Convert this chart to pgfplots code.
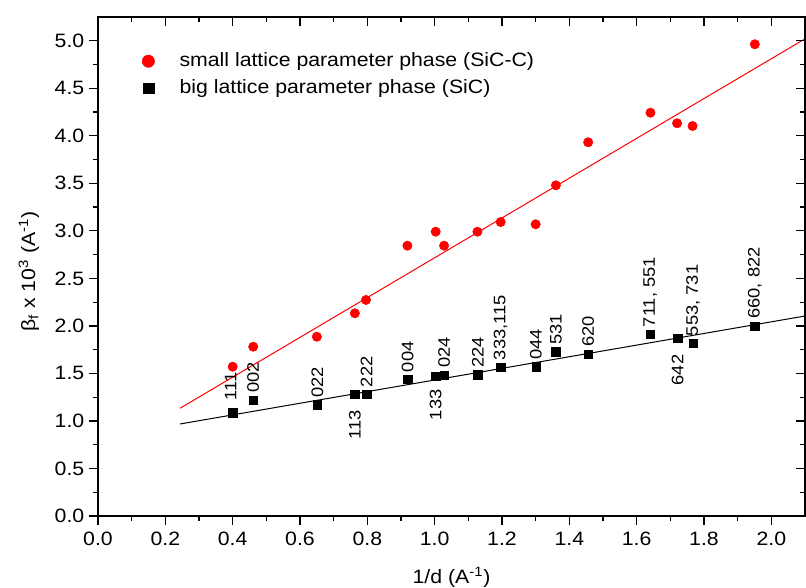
\documentclass[border=0pt]{standalone}
\usepackage{fontspec}
\setmainfont{Liberation Sans}[FakeStretch=1.1]
\usepackage{pgfplots}
\pgfplotsset{compat=1.18}
\begin{document}
\begin{tikzpicture}
\pgfplotsset{
  common/.style={
    at={(0,0)}, anchor=south west, scale only axis,
    width=530.25pt, height=374.25pt,
    xmin=0, xmax=2.1, ymin=0, ymax=5.25,
    xtick={0,0.2,0.4,0.6,0.8,1.0,1.2,1.4,1.6,1.8,2.0},
    ytick={0,0.5,1.0,1.5,2.0,2.5,3.0,3.5,4.0,4.5,5.0},
    minor x tick num=1, minor y tick num=1,
    major tick length=6.75pt, minor tick length=3.75pt,
    axis line style={line width=0.9pt},
    every tick/.style={line width=0.9pt, black},
    tick label style={font=\fontsize{14.5}{17}\selectfont},
    /pgf/number format/assume math mode=true,
    /pgf/number format/fixed,
    /pgf/number format/fixed zerofill,
    /pgf/number format/precision=1,
  },
}
\begin{axis}[common, name=ax,
  tick align=outside, xtick pos=left, ytick pos=left,
  xticklabel style={yshift=-2pt},
  xlabel={1/d (A\textsuperscript{-1})},
  ylabel={β\textsubscript{f} x 10\textsuperscript{3} (A\textsuperscript{-1})},
  label style={font=\fontsize{14.5}{17}\selectfont},
  xlabel style={at={(axis description cs:0.5,-0.1343)}, anchor=base},
  ylabel style={at={(axis description cs:-0.0976,0.49)}, anchor=center},
  legend style={at={(axis description cs:0,1)}, anchor=north west,
    xshift=33pt, yshift=-26pt, draw=none, fill=none, inner sep=0pt,
    row sep=6.25pt, font=\fontsize{14.5}{17}\selectfont,
    nodes={inner sep=0pt, text height=11pt, text depth=3pt, anchor=west},
    /tikz/every odd column/.append style={column sep=18.75pt}},
  legend cell align=left,
]
\addplot[only marks, mark=*, mark size=3.5pt, mark options={draw=red, fill=red},
  legend image post style={mark size=4.6pt}] coordinates {
(0.400,1.571) (0.461,1.781) (0.650,1.886) (0.763,2.133) (0.796,2.273)
(0.919,2.844) (1.003,2.991) (1.028,2.844) (1.127,2.991) (1.196,3.093)
(1.300,3.069) (1.360,3.479) (1.456,3.932) (1.641,4.243) (1.720,4.132)
(1.766,4.103) (1.951,4.963)};
\addlegendentry{small lattice parameter phase (SiC-C)}
\addplot[only marks, mark=square*, mark size=3.1pt, mark options={draw=black, fill=black},
  legend image post style={mark size=4.1pt}] coordinates {
(0.400,1.087) (0.461,1.220) (0.652,1.171) (0.763,1.280) (0.798,1.280)
(0.920,1.438) (1.003,1.473) (1.028,1.483) (1.128,1.487) (1.196,1.564)
(1.301,1.571) (1.360,1.729) (1.456,1.704) (1.640,1.911) (1.722,1.869)
(1.768,1.817) (1.951,1.999)};
\addlegendentry{big lattice parameter phase (SiC)}
\addplot[red, line width=0.75pt, forget plot] coordinates {(0.2435,1.133) (2.1,5.02)};
\addplot[black, line width=0.75pt, forget plot] coordinates {(0.2435,0.968) (2.1,2.104)};
\begin{scope}[every node/.style={inner sep=0pt, font=\fontsize{12.5}{14}\selectfont}]
\node[rotate=90, anchor=west] at ([xshift=-1.5pt,yshift=9pt]axis cs:0.400,1.087) {111};
\node[rotate=90, anchor=west] at ([yshift=5.25pt]axis cs:0.461,1.220) {002};
\node[rotate=90, anchor=west] at ([yshift=5.25pt]axis cs:0.652,1.171) {022};
\node[rotate=90, anchor=east] at ([yshift=-12pt]axis cs:0.763,1.280) {113};
\node[rotate=90, anchor=west] at ([yshift=5.25pt]axis cs:0.798,1.280) {222};
\node[rotate=90, anchor=west] at ([yshift=5.25pt]axis cs:0.920,1.438) {004};
\node[rotate=90, anchor=east] at ([yshift=-10pt]axis cs:1.003,1.473) {133};
\node[rotate=90, anchor=west] at ([yshift=5.25pt]axis cs:1.028,1.483) {024};
\node[rotate=90, anchor=west] at ([yshift=5.25pt]axis cs:1.128,1.487) {224};
\node[rotate=90, anchor=west] at ([yshift=5.25pt]axis cs:1.196,1.564) {333,115};
\node[rotate=90, anchor=west] at ([yshift=5.25pt]axis cs:1.301,1.571) {044};
\node[rotate=90, anchor=west] at ([yshift=5.25pt]axis cs:1.360,1.729) {531};
\node[rotate=90, anchor=west] at ([yshift=5.25pt]axis cs:1.456,1.704) {620};
\node[rotate=90, anchor=west] at ([yshift=5.25pt]axis cs:1.640,1.911) {711, 551};
\node[rotate=90, anchor=east] at ([yshift=-12pt]axis cs:1.722,1.869) {642};
\node[rotate=90, anchor=west] at ([yshift=5.25pt]axis cs:1.768,1.817) {553, 731};
\node[rotate=90, anchor=west] at ([yshift=5.25pt]axis cs:1.951,1.999) {660, 822};
\end{scope}
\end{axis}
\begin{axis}[common, tick align=inside, xtick pos=right, ytick pos=right,
  xticklabels={}, yticklabels={}]
\end{axis}
\pgfresetboundingbox
\path (ax.south west) ++(-73.5pt,-54pt) rectangle ++(604.5pt,441pt);
\end{tikzpicture}
\end{document}
